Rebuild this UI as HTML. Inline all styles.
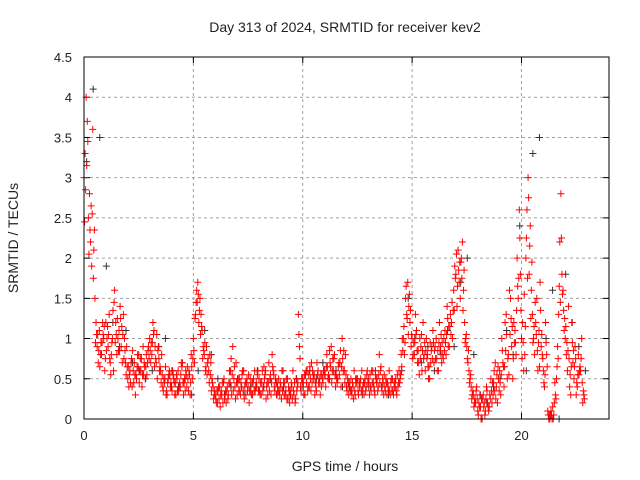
<!DOCTYPE html>
<html><head><meta charset="utf-8"><style>
body{margin:0;background:#fff;}
svg{display:block;font-family:"Liberation Sans",sans-serif;}
</style></head><body>
<svg id="chart" width="640" height="480" viewBox="0 0 640 480" xmlns="http://www.w3.org/2000/svg">
<rect width="640" height="480" fill="#fff"/>
<text x="345" y="32" font-size="14" text-anchor="middle" fill="#222">Day 313 of 2024, SRMTID for receiver kev2</text>
<text x="345" y="471" font-size="14" text-anchor="middle" fill="#222">GPS time / hours</text>
<text x="0" y="0" transform="translate(18,238) rotate(-90)" font-size="14" text-anchor="middle" fill="#222">SRMTID / TECUs</text>
<g id="grid"></g>
<g id="ticks"></g>
<g id="marks"></g>
<rect x="84" y="57" width="525" height="362" fill="none" stroke="#000" stroke-width="1"/>
</svg>
<script>
const xTicks=[0,5,10,15,20];
const yTicks=[0,0.5,1,1.5,2,2.5,3,3.5,4,4.5];
const yTickLabels=["0","0.5","1","1.5","2","2.5","3","3.5","4","4.5"];
const redA=[3.0,4.0,2.5,2.2,3.6,1.5,0.9,1.1,0.8,1.0,
1.2,0.9,0.7,1.0,1.6,0.8,1.1,0.9,1.3,0.7,
0.5,0.6,0.4,0.7,0.5,0.8,0.6,0.9,0.5,0.7,
1.0,0.8,1.1,0.7,0.9,0.6,0.4,0.5,0.3,0.6,
0.4,0.5,0.3,0.6,0.4,0.7,0.5,0.4,0.6,0.8,
1.0,1.3,1.7,1.5,1.1,0.8,0.9,0.6,0.7,0.4,
0.3,0.2,0.4,0.3,0.5,0.2,0.3,0.6,0.9,0.4,
0.3,0.5,0.4,0.6,0.3,0.4,0.5,0.3,0.6,0.4,
0.5,0.3,0.4,0.6,0.3,0.5,0.8,0.4,0.3,0.5,
0.4,0.6,0.3,0.5,0.2,0.4,0.3,0.5,1.3,0.4,
0.5,0.3,0.6,0.4,0.7,0.5,0.4,0.6,0.3,0.5,
0.6,0.8,0.5,0.9,0.6,0.4,0.5,0.7,1.0,0.6,
0.4,0.3,0.5,0.4,0.3,0.5,0.4,0.6,0.3,0.4,
0.5,0.4,0.6,0.3,0.5,0.8,0.4,0.3,0.5,0.4,
0.3,0.5,0.4,0.3,0.6,0.8,1.0,1.5,1.7,1.2,
1.0,0.8,1.1,0.7,0.9,1.2,0.6,0.8,0.5,0.9,
0.7,1.0,0.6,0.9,0.8,1.1,1.4,0.9,1.2,1.6,
1.8,2.1,1.5,2.2,1.2,0.9,0.6,0.4,0.3,0.2,
0.1,0.3,0.0,0.2,0.4,0.1,0.5,0.3,0.7,0.2,
0.6,1.0,0.4,1.3,0.8,1.5,0.5,1.1,2.0,2.6,
1.0,0.6,2.0,3.0,2.4,1.3,0.8,1.5,1.1,0.9,
0.6,1.2,0.1,0.0,0.0,0.2,0.5,1.3,2.8,1.6,
1.0,0.6,0.4,1.2,0.5,0.3,0.8,0.6,0.2];
const redB=[3.3,3.7,2.8,1.9,2.1,1.2,0.7,0.8,1.2,0.6,
1.0,1.3,0.8,0.6,1.2,1.0,1.4,0.7,1.0,0.9,
0.4,0.7,0.6,0.3,0.8,0.6,0.4,0.7,0.8,0.9,
0.7,1.2,0.9,0.5,0.6,0.8,0.5,0.3,0.5,0.4,
0.6,0.3,0.5,0.4,0.7,0.3,0.6,0.5,0.3,0.5,
0.7,1.6,1.2,1.3,0.9,0.6,0.7,0.8,0.5,0.3,
0.2,0.4,0.3,0.2,0.3,0.4,0.6,0.3,0.5,0.7,
0.5,0.3,0.6,0.4,0.5,0.2,0.3,0.5,0.4,0.6,
0.3,0.6,0.5,0.4,0.7,0.3,0.6,0.5,0.4,0.3,
0.6,0.3,0.5,0.4,0.3,0.6,0.2,0.4,0.9,0.5,
0.3,0.6,0.4,0.5,0.6,0.3,0.7,0.5,0.4,0.6,
0.4,0.5,0.7,0.6,0.8,0.5,0.7,0.4,0.6,0.8,
0.5,0.4,0.3,0.6,0.5,0.3,0.5,0.4,0.5,0.6,
0.3,0.6,0.4,0.5,0.4,0.6,0.5,0.4,0.3,0.6,
0.5,0.3,0.5,0.4,0.5,1.0,0.8,1.3,1.4,0.9,
0.8,1.3,0.7,1.0,0.6,0.8,1.0,0.5,0.7,1.1,
0.9,0.6,1.2,0.7,1.0,0.8,0.9,1.3,1.0,1.9,
1.4,1.7,2.0,1.6,1.0,0.7,0.5,0.3,0.2,0.4,
0.2,0.0,0.3,0.1,0.2,0.3,0.2,0.6,0.4,0.5,
0.3,0.7,1.2,0.5,1.6,0.9,1.2,0.8,1.5,1.8,
1.2,0.8,2.6,1.8,1.6,1.0,1.2,0.6,1.7,0.8,
0.4,0.8,0.0,0.1,0.0,0.3,0.9,2.2,1.8,1.1,
0.8,1.4,0.3,0.7,0.9,0.4,0.6,1.0,0.3];
const redC=[2.45,3.15,2.05,2.65,1.75,0.95,1.05,0.65,0.95,1.15,
0.85,1.05,0.55,1.35,0.95,1.25,0.85,1.15,0.75,0.55,
0.65,0.45,0.85,0.55,0.65,0.45,0.75,0.55,0.65,0.85,
0.85,0.95,0.65,1.05,0.75,0.45,0.35,0.65,0.45,0.55,
0.35,0.45,0.55,0.35,0.55,0.45,0.35,0.65,0.55,0.65,
0.85,1.45,1.55,1.05,0.75,0.95,0.55,0.45,0.35,0.25,
0.25,0.35,0.15,0.45,0.25,0.35,0.45,0.75,0.35,0.25,
0.45,0.35,0.55,0.25,0.45,0.55,0.35,0.45,0.35,0.55,
0.35,0.45,0.65,0.25,0.45,0.55,0.65,0.35,0.45,0.35,
0.25,0.45,0.35,0.25,0.35,0.25,0.45,0.35,1.05,0.35,
0.45,0.55,0.35,0.65,0.45,0.55,0.35,0.45,0.55,0.45,
0.55,0.65,0.85,0.45,0.75,0.55,0.65,0.85,0.75,0.45,
0.35,0.45,0.35,0.25,0.45,0.35,0.45,0.35,0.45,0.55,
0.45,0.35,0.45,0.55,0.35,0.45,0.35,0.55,0.45,0.35,
0.45,0.35,0.45,0.55,0.45,0.65,1.15,1.65,1.05,1.35,
0.75,0.95,0.85,0.55,1.05,0.75,0.85,0.65,0.95,0.75,
0.85,0.75,0.95,1.05,0.75,0.95,1.25,1.15,1.45,1.35,
2.05,1.85,1.95,1.35,0.95,0.75,0.45,0.25,0.15,0.35,
0.05,0.15,0.25,0.05,0.35,0.15,0.35,0.45,0.25,0.65,
0.45,0.85,0.65,1.05,0.55,1.25,0.75,0.95,1.65,2.25,
0.75,1.55,2.25,2.75,1.25,0.95,1.45,0.85,0.65,1.05,
0.45,0.95,0.05,0.05,0.15,0.45,0.65,1.65,2.25,1.35,
1.15,0.85,0.55,0.95,0.65,0.45,0.55,0.75,0.35];
const redD=[2.85,3.45,2.35,2.55,2.35,1.05,0.85,0.95,1.05,0.75,
1.15,0.75,0.95,1.45,1.05,0.85,1.25,1.05,0.85,0.65,
0.55,0.75,0.45,0.55,0.65,0.75,0.55,0.65,0.55,0.75,
0.95,1.05,0.75,0.85,0.65,0.55,0.45,0.35,0.55,0.45,
0.55,0.45,0.35,0.45,0.65,0.45,0.55,0.35,0.45,0.75,
1.25,1.45,1.35,1.15,0.85,0.65,0.75,0.55,0.45,0.35,
0.35,0.25,0.35,0.45,0.35,0.25,0.45,0.55,0.65,0.45,
0.35,0.45,0.35,0.45,0.35,0.35,0.45,0.35,0.45,0.35,
0.45,0.35,0.55,0.45,0.35,0.45,0.55,0.45,0.35,0.45,
0.35,0.45,0.25,0.35,0.45,0.35,0.25,0.45,0.75,0.45,
0.55,0.45,0.55,0.35,0.55,0.45,0.55,0.45,0.55,0.55,
0.65,0.55,0.65,0.75,0.55,0.45,0.55,0.65,0.85,0.55,
0.45,0.35,0.45,0.35,0.45,0.45,0.35,0.45,0.35,0.45,
0.55,0.45,0.35,0.45,0.55,0.65,0.45,0.35,0.45,0.35,
0.35,0.45,0.35,0.45,0.55,0.85,0.95,1.25,1.55,1.05,
0.95,1.05,0.85,0.75,0.85,0.95,0.75,0.65,0.85,0.95,
0.75,0.85,0.85,0.95,0.85,1.05,1.15,1.05,1.35,1.75,
1.65,1.95,1.75,1.85,1.05,0.85,0.55,0.35,0.25,0.25,
0.15,0.25,0.15,0.25,0.15,0.25,0.45,0.35,0.55,0.35,
0.55,0.65,0.85,0.75,1.05,1.15,0.95,1.35,1.75,1.35,
0.95,1.15,1.75,2.15,1.95,1.15,1.05,0.95,1.35,0.75,
0.55,0.65,0.05,0.05,0.05,0.25,0.75,1.45,1.55,1.25,
0.95,0.75,0.65,0.85,0.75,0.55,0.65,0.45,0.25];
const black=[3.2,4.1,3.5,1.9,1.2,0.9,1.1,0.7,0.6,0.5,
0.6,0.9,1.0,0.6,0.4,0.5,0.3,0.6,1.1,0.8,
0.5,0.3,0.4,0.5,0.3,0.4,0.6,0.4,0.5,0.3,
0.4,0.3,0.5,0.4,0.6,0.5,0.7,0.5,0.6,0.4,
0.4,0.5,0.3,0.4,0.6,0.4,0.3,0.4,0.6,1.5,
1.0,0.7,0.9,0.6,0.8,1.1,0.9,1.7,2.0,0.8,
0.3,0.2,0.4,0.5,1.1,0.8,2.4,0.6,3.3,3.5,
1.0,1.6,0.0,1.8,1.2,0.9,0.6];
const L=84,R=609,T=57,B=419,XMAX=24,YMAX=4.5;
function xs(h){return L+h/XMAX*(R-L);}
function ys(v){return B-v/YMAX*(B-T);}
const NS="http://www.w3.org/2000/svg";
const grid=document.getElementById('grid'),ticks=document.getElementById('ticks'),marks=document.getElementById('marks');
function mk(tag,attrs,parent){const e=document.createElementNS(NS,tag);for(const k in attrs)e.setAttribute(k,attrs[k]);parent.appendChild(e);return e;}
xTicks.forEach(t=>{const x=xs(t);
 if(t>0){const g=mk('line',{x1:x,x2:x,y1:T,y2:B,stroke:'#a0a0a0','stroke-dasharray':'3,3'},grid);
 
 }
 const tk=mk('path',{d:`M${x},${B}v-6M${x},${T}v6`,stroke:'#000'},ticks);
 
 
 const lb=mk('text',{x:x,y:B+21,'font-size':13,'text-anchor':'middle',fill:'#222'},ticks);lb.textContent=String(t);
 
 
});
yTicks.forEach((t,i)=>{const y=ys(t);
 if(t>0&&t<YMAX){const g=mk('line',{x1:L,x2:R,y1:y,y2:y,stroke:'#a0a0a0','stroke-dasharray':'3,3'},grid);
 
 }
 const tk=mk('path',{d:`M${L},${y}h6M${R},${y}h-6`,stroke:'#000'},ticks);
 
 
 const lb=mk('text',{x:L-12,y:y+5,'font-size':13,'text-anchor':'end',fill:'#222'},ticks);lb.textContent=yTickLabels[i];
 
 
});
function series(vals,t0,dt,color,name){let d='';vals.forEach((v,i)=>{const x=xs(t0+i*dt),y=ys(v);d+=`M${x-3.5},${y}h7M${x},${y-3.5}v7`;});
 const p=mk('path',{d:d,stroke:color,'stroke-width':1,fill:'none'},marks);
 
 }
series(black,0.12,0.3,'#333','black-series-points');
series(redA,0,0.1,'#ff0000','red-series-points-a');
series(redB,0.05,0.1,'#ff0000','red-series-points-b');
series(redC,0.025,0.1,'#ff0000','red-series-points-c');
series(redD,0.075,0.1,'#ff0000','red-series-points-d');
</script>
</body></html>
